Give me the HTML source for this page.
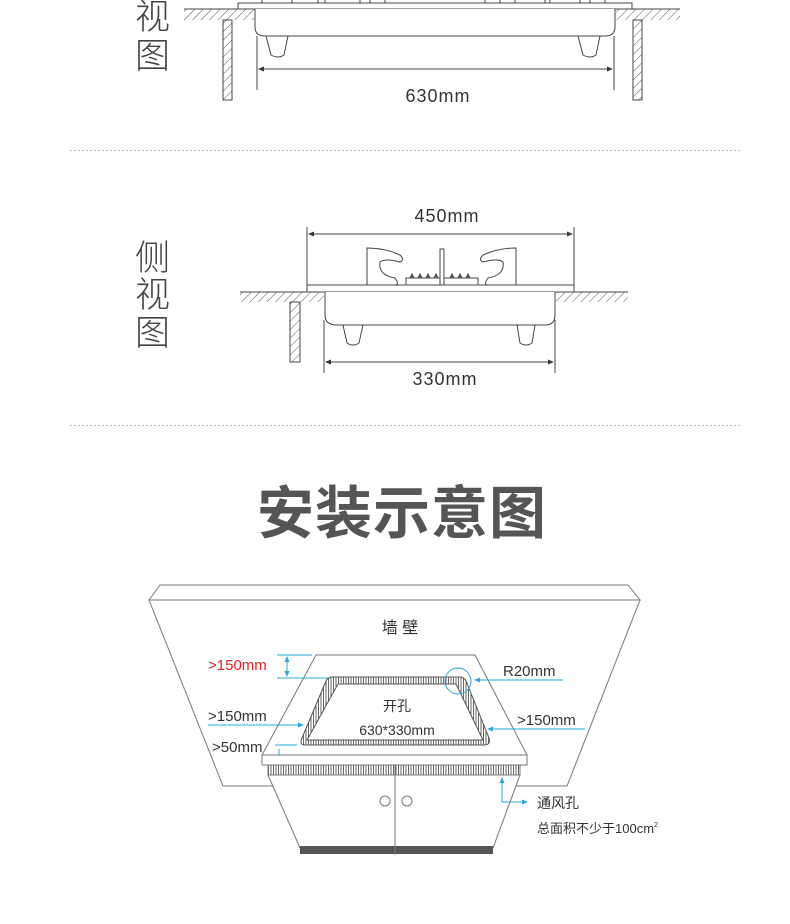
<!DOCTYPE html>
<html><head><meta charset="utf-8"><style>
html,body{margin:0;padding:0;background:#fff;}
svg{display:block;}
text{font-family:"Liberation Sans","Noto Sans CJK SC",sans-serif;}
</style></head><body>
<svg width="790" height="924" viewBox="0 0 790 924" xmlns="http://www.w3.org/2000/svg">
<defs>
<pattern id="h" width="6" height="6" patternUnits="userSpaceOnUse" patternTransform="rotate(45)">
<rect width="6" height="6" fill="#fff"/><line x1="0" y1="0" x2="0" y2="6" stroke="#555" stroke-width="1"/></pattern>
<pattern id="v" width="2.5" height="6" patternUnits="userSpaceOnUse">
<rect width="2.5" height="6" fill="#fff"/><line x1="1" y1="0" x2="1" y2="6" stroke="#666" stroke-width="1"/></pattern>
<marker id="a" markerWidth="6" markerHeight="6" refX="5" refY="3" orient="auto"><path d="M0,0.5 L6,3 L0,5.5z" fill="#333"/></marker>
<marker id="b" markerWidth="6" markerHeight="6" refX="5" refY="3" orient="auto"><path d="M0,0.5 L6,3 L0,5.5z" fill="#29a8de"/></marker>
</defs>
<g font-weight="300" fill="#444" font-size="35">
<text x="135" y="29" font-family="Noto Sans CJK SC">视</text>
<text x="135" y="68" font-family="Noto Sans CJK SC">图</text>
<text x="135" y="270" font-family="Noto Sans CJK SC">侧</text>
<text x="135" y="307" font-family="Noto Sans CJK SC">视</text>
<text x="135" y="345" font-family="Noto Sans CJK SC">图</text>
</g>
<!-- top view -->
<g stroke="#444" stroke-width="1" fill="none">
<rect x="184" y="9" width="70" height="11" fill="url(#h)" stroke="none"/>
<line x1="184" y1="9" x2="254" y2="9"/>
<rect x="616" y="9" width="64" height="11" fill="url(#h)" stroke="none"/>
<line x1="616" y1="9" x2="680" y2="9"/>
<rect x="223" y="20" width="9" height="80" fill="url(#h)"/>
<rect x="633" y="20" width="9" height="80" fill="url(#h)"/>
<rect x="238" y="3" width="394" height="6" fill="#fff"/>
<path d="M255,9 V27 Q255,36 265,36 H605 Q615,36 615,27 V9" fill="#fff"/>
<path d="M266,36 L271,55 Q278,59 284,55 L288,36"/>
<path d="M578,36 L583,55 Q590,59 596,55 L600,36"/>
<path d="M262,0 V3 M292,0 V3 H318 V0 M325,0 V3 H360 V0 M370,0 V3 H385 V0 M485,0 V3 H500 V0 M515,0 V3 H545 V0 M550,0 V3 H580 V0 M590,0 V3 H605 V0"/>
<line x1="257" y1="36" x2="257" y2="90"/><line x1="614" y1="36" x2="614" y2="90"/>
<line x1="259" y1="69" x2="612" y2="69" marker-end="url(#a)"/>
<line x1="612" y1="69" x2="259" y2="69" marker-end="url(#a)"/>
</g>
<text x="438" y="102" font-size="18" fill="#333" text-anchor="middle" letter-spacing="1">630mm</text>
<line x1="70" y1="150.5" x2="740" y2="150.5" stroke="#bbb" stroke-dasharray="2,2"/>
<!-- side view -->
<text x="447" y="222" font-size="18" fill="#333" text-anchor="middle" letter-spacing="1">450mm</text>
<g stroke="#444" stroke-width="1" fill="none">
<line x1="307" y1="227" x2="307" y2="287"/><line x1="574" y1="227" x2="574" y2="287"/>
<line x1="309" y1="234" x2="572" y2="234" marker-end="url(#a)"/>
<line x1="572" y1="234" x2="309" y2="234" marker-end="url(#a)"/>
<rect x="240" y="292" width="84" height="10" fill="url(#h)" stroke="none"/>
<line x1="240" y1="292" x2="324" y2="292"/>
<rect x="556" y="292" width="72" height="10" fill="url(#h)" stroke="none"/>
<line x1="556" y1="292" x2="628" y2="292"/>
<rect x="290" y="302" width="10" height="60" fill="url(#h)"/>
<rect x="307" y="285" width="267" height="7" fill="#fff"/>
<path d="M325,292 V315 Q325,325 337,325 H545 Q555,325 555,315 V292" fill="#fff"/>
<path d="M343,325 L347,343 Q353,347 359,343 L363,325"/>
<path d="M517,325 L520,343 Q526,347 532,343 L535,325"/>
<path d="M367,285 V248 Q385,248 400,255 Q405,260 400,262 Q385,258 380,262 Q378,275 395,278 Q400,285 395,285 Z"/>
<path d="M516,285 V248 Q498,248 483,255 Q478,260 483,262 Q498,258 503,262 Q505,275 488,278 Q483,285 488,285 Z"/>
<rect x="406" y="278" width="72" height="7"/>
<path d="M410,278 l2,-4 l2,4 M418,278 l2,-4 l2,4 M426,278 l2,-4 l2,4 M434,278 l2,-4 l2,4 M450,278 l2,-4 l2,4 M458,278 l2,-4 l2,4 M466,278 l2,-4 l2,4" fill="#666"/>
<rect x="440" y="249" width="4" height="36" fill="#fff"/>
<line x1="324" y1="320" x2="324" y2="373"/><line x1="555" y1="320" x2="555" y2="373"/>
<line x1="326" y1="362" x2="553" y2="362" marker-end="url(#a)"/>
<line x1="553" y1="362" x2="326" y2="362" marker-end="url(#a)"/>
</g>
<text x="445" y="385" font-size="18" fill="#333" text-anchor="middle" letter-spacing="1">330mm</text>
<line x1="70" y1="425.5" x2="740" y2="425.5" stroke="#bbb" stroke-dasharray="2,2"/>
<text x="402" y="533" font-size="57" font-weight="bold" fill="#555" text-anchor="middle" font-family="Noto Sans CJK SC" letter-spacing="1">安装示意图</text>
<!-- install -->
<g stroke="#777" stroke-width="1">
<path d="M149,600 L160,585 H628 L640,600 Z" fill="#fff"/>
<path d="M149,600 H640 L567,786 H223 Z" fill="#fff"/>
<path d="M316,655 H475 L527,755 H262 Z" fill="#fff"/>
<path d="M262,755 H527 V765 H262 Z" fill="#fff"/>
<path d="M268,765 H520 L520,775 H268 Z" fill="url(#v)"/>
<path d="M268,775 L300,848 H493 L520,775 Z" fill="#fff"/>
<rect x="300" y="846" width="193" height="8" fill="#555" stroke="none"/>
<line x1="395" y1="765" x2="395" y2="855"/>
<circle cx="385" cy="801" r="5" fill="#fff"/><circle cx="407" cy="801" r="5" fill="#fff"/>
<path d="M333,677 H460 Q464,677 466,681 L489,738 Q491,745 484,745 H305 Q299,745 302,738 L326,681 Q328,677 333,677 Z" fill="url(#v)" stroke="#555"/>
<path d="M338,684 H456 L483,740 H307 Z" fill="#fff" stroke="#555"/>
</g>
<circle cx="458" cy="681" r="13" fill="none" stroke="#29a8de"/>
<g fill="#333" font-size="15">
<text x="400" y="633" text-anchor="middle" font-size="16" font-family="Noto Sans CJK SC">墙 壁</text>
<text x="208" y="670" fill="#e0222a">&gt;150mm</text>
<text x="503" y="676">R20mm</text>
<text x="208" y="721">&gt;150mm</text>
<text x="517" y="725">&gt;150mm</text>
<text x="212" y="752">&gt;50mm</text>
<text x="397" y="711" text-anchor="middle" font-family="Noto Sans CJK SC" font-size="14">开孔</text>
<text x="397" y="735" text-anchor="middle" font-size="14">630*330mm</text>
<text x="537" y="808" font-family="Noto Sans CJK SC" font-size="14">通风孔</text>
<text x="537" y="833" font-family="Noto Sans CJK SC" font-size="13">总面积不少于100cm<tspan font-size="7" dy="-6">2</tspan></text>
</g>
<g stroke="#29a8de" stroke-width="1" fill="none">
<line x1="277" y1="655" x2="312" y2="655"/>
<line x1="277" y1="678" x2="328" y2="678"/>
<line x1="287" y1="666" x2="287" y2="657" marker-end="url(#b)"/>
<line x1="287" y1="666" x2="287" y2="676" marker-end="url(#b)"/>
<line x1="563" y1="680" x2="475" y2="680" marker-end="url(#b)"/>
<line x1="208" y1="725" x2="285" y2="725"/>
<line x1="285" y1="725" x2="303" y2="725" marker-end="url(#b)"/>
<line x1="585" y1="729" x2="505" y2="729"/>
<line x1="505" y1="729" x2="488" y2="729" marker-end="url(#b)"/>
<line x1="275" y1="745" x2="297" y2="745"/>
<line x1="279" y1="749" x2="279" y2="755"/>
<polyline points="502,802 502,778" marker-end="url(#b)"/>
<polyline points="502,802 527,802" marker-end="url(#b)"/>
</g>
</svg>
</body></html>
